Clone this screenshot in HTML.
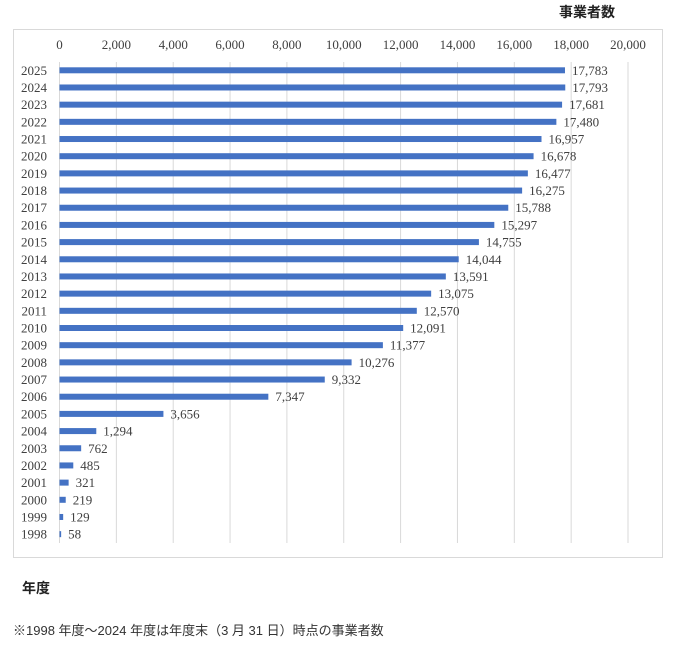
<!DOCTYPE html>
<html><head><meta charset="utf-8"><style>
body{margin:0;background:#fff;width:674px;height:652px;overflow:hidden}
svg text{font-family:"Liberation Serif","Noto Serif CJK SC",serif;fill:#404040}
</style></head><body>
<svg width="674" height="652" xmlns="http://www.w3.org/2000/svg">
<text x="587" y="17" font-size="14" font-weight="bold" text-anchor="middle" style="font-family:'Noto Sans CJK JP',sans-serif;fill:#222">事業者数</text>
<rect x="13.5" y="29.5" width="649" height="528" fill="#fff" stroke="#d9d9d9"/>
<g id="g"></g>
<text x="22" y="593" font-size="14" font-weight="bold" style="font-family:'Noto Sans CJK JP',sans-serif;fill:#222">年度</text>
<text x="13" y="635" font-size="13" style="font-family:'Liberation Sans','Noto Sans CJK JP',sans-serif;fill:#333">※1998 年度～2024 年度は年度末（3 月 31 日）時点の事業者数</text>
</svg>
<script>
const g=document.getElementById('g');const ns='http://www.w3.org/2000/svg';
function el(t,a,txt){const e=document.createElementNS(ns,t);for(const k in a)e.setAttribute(k,a[k]);if(txt!=null)e.textContent=txt;g.appendChild(e);}
const x0=59.5,sc=568.5/20000;
for(let v=0;v<=20000;v+=2000){const x=x0+v*sc;el('line',{x1:x,x2:x,y1:62,y2:543,stroke:'#d9d9d9','stroke-width':1});el('text',{x:x,y:49,'font-size':13,'text-anchor':'middle'},v.toLocaleString('en-US'));}
const d=[17783,17793,17681,17480,16957,16678,16477,16275,15788,15297,14755,14044,13591,13075,12570,12091,11377,10276,9332,7347,3656,1294,762,485,321,219,129,58];
d.forEach((v,i)=>{const y=70.3+i*17.18;const yr=2025-i;
el('text',{x:47,y:y+4.5,'font-size':13,'text-anchor':'end'},yr);
el('rect',{x:x0,y:y-3,width:v*sc,height:6,fill:'#4472c4'});
el('text',{x:x0+v*sc+7,y:y+4.5,'font-size':13},v.toLocaleString('en-US'));});
</script>
</body></html>
